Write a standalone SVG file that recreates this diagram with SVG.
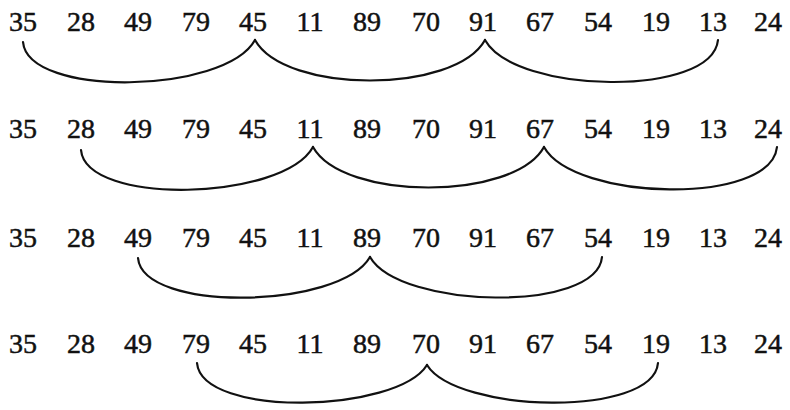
<svg xmlns="http://www.w3.org/2000/svg" width="790" height="410" viewBox="0 0 790 410">
<style>
text{font-family:"Liberation Serif","Times New Roman",serif;font-size:28px;fill:#111;stroke:#111;stroke-width:0.5;text-anchor:middle}
.arc{fill:none;stroke:#111;stroke-width:2.2;stroke-linecap:round}
</style>
<rect width="790" height="410" fill="#fff"/>
<g id="row1">
<g id="r1n0"><text x="23" y="31">35</text></g>
<g id="r1n1"><text x="81" y="31">28</text></g>
<g id="r1n2"><text x="138" y="31">49</text></g>
<g id="r1n3"><text x="196" y="31">79</text></g>
<g id="r1n4"><text x="253" y="31">45</text></g>
<g id="r1n5"><text x="310" y="31">11</text></g>
<g id="r1n6"><text x="367" y="31">89</text></g>
<g id="r1n7"><text x="426" y="31">70</text></g>
<g id="r1n8"><text x="483" y="31">91</text></g>
<g id="r1n9"><text x="540" y="31">67</text></g>
<g id="r1n10"><text x="598" y="31">54</text></g>
<g id="r1n11"><text x="656" y="31">19</text></g>
<g id="r1n12"><text x="713" y="31">13</text></g>
<g id="r1n13"><text x="768" y="31">24</text></g>
</g>
<g id="row2">
<g id="r2n0"><text x="23" y="138">35</text></g>
<g id="r2n1"><text x="81" y="138">28</text></g>
<g id="r2n2"><text x="138" y="138">49</text></g>
<g id="r2n3"><text x="196" y="138">79</text></g>
<g id="r2n4"><text x="253" y="138">45</text></g>
<g id="r2n5"><text x="310" y="138">11</text></g>
<g id="r2n6"><text x="367" y="138">89</text></g>
<g id="r2n7"><text x="426" y="138">70</text></g>
<g id="r2n8"><text x="483" y="138">91</text></g>
<g id="r2n9"><text x="540" y="138">67</text></g>
<g id="r2n10"><text x="598" y="138">54</text></g>
<g id="r2n11"><text x="656" y="138">19</text></g>
<g id="r2n12"><text x="713" y="138">13</text></g>
<g id="r2n13"><text x="768" y="138">24</text></g>
</g>
<g id="row3">
<g id="r3n0"><text x="23" y="247">35</text></g>
<g id="r3n1"><text x="81" y="247">28</text></g>
<g id="r3n2"><text x="138" y="247">49</text></g>
<g id="r3n3"><text x="196" y="247">79</text></g>
<g id="r3n4"><text x="253" y="247">45</text></g>
<g id="r3n5"><text x="310" y="247">11</text></g>
<g id="r3n6"><text x="367" y="247">89</text></g>
<g id="r3n7"><text x="426" y="247">70</text></g>
<g id="r3n8"><text x="483" y="247">91</text></g>
<g id="r3n9"><text x="540" y="247">67</text></g>
<g id="r3n10"><text x="598" y="247">54</text></g>
<g id="r3n11"><text x="656" y="247">19</text></g>
<g id="r3n12"><text x="713" y="247">13</text></g>
<g id="r3n13"><text x="768" y="247">24</text></g>
</g>
<g id="row4">
<g id="r4n0"><text x="23" y="353">35</text></g>
<g id="r4n1"><text x="81" y="353">28</text></g>
<g id="r4n2"><text x="138" y="353">49</text></g>
<g id="r4n3"><text x="196" y="353">79</text></g>
<g id="r4n4"><text x="253" y="353">45</text></g>
<g id="r4n5"><text x="310" y="353">11</text></g>
<g id="r4n6"><text x="367" y="353">89</text></g>
<g id="r4n7"><text x="426" y="353">70</text></g>
<g id="r4n8"><text x="483" y="353">91</text></g>
<g id="r4n9"><text x="540" y="353">67</text></g>
<g id="r4n10"><text x="598" y="353">54</text></g>
<g id="r4n11"><text x="656" y="353">19</text></g>
<g id="r4n12"><text x="713" y="353">13</text></g>
<g id="r4n13"><text x="768" y="353">24</text></g>
</g>
<g id="connectors">
<path class="arc" d="M23,42 C28,98 225,94 255,40"/>
<path class="arc" d="M255,40 C285,94 455,94 485,40"/>
<path class="arc" d="M485,40 C515,94 712,98 718,40"/>
<path class="arc" d="M81,150 C86,206 283,201 313,147"/>
<path class="arc" d="M313,147 C343,201 514,201 544,147"/>
<path class="arc" d="M544,147 C574,201 771,206 777,147"/>
<path class="arc" d="M138,258 C143,313 340,309 370,257"/>
<path class="arc" d="M370,257 C400,309 597,313 602,257"/>
<path class="arc" d="M197,363 C202,418 397,413 427,365"/>
<path class="arc" d="M427,365 C457,413 653,418 658,363"/>
</g>
</svg>
